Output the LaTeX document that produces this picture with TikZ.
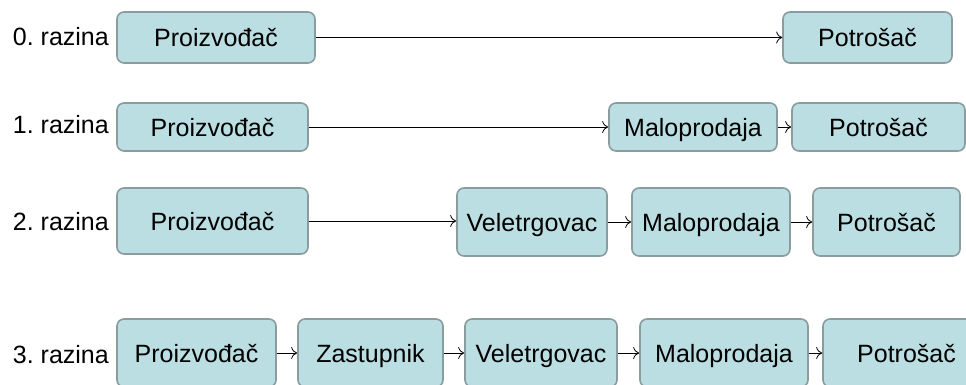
\documentclass[tikz,border=0pt]{standalone}
\usepackage{fontspec}
\setmainfont{Liberation Sans}
\usetikzlibrary{arrows.meta}
\definecolor{boxfill}{RGB}{186,222,226}
\definecolor{boxline}{RGB}{138,156,158}

\begin{document}
\begin{tikzpicture}[x=1pt,y=-1pt,
	box/.style={draw=boxline, fill=boxfill, line width=1.6pt, rounded corners=7pt,
		inner sep=2pt, text height=18pt, text depth=0pt, font=\fontsize{25}{30}\selectfont},
	level/.style={anchor=east, inner sep=0pt, font=\fontsize{25}{30}\selectfont},
	link/.style={-{To[length=6pt,width=12pt]}, line width=0.8pt}]
	\useasboundingbox (0,0) rectangle (966,385);
	% razine
	\foreach \Y [count=\Z from 0] in {37, 125, 222, 355}
	{\node[level] (l\Z) at (109,\Y) {\Z.\ razina};}
	% kutije
	\foreach \N/\X/\Y/\W/\H/\T in {
	p0/216/37.5/198/51/Proizvođač, c0/867.5/37.5/169/51/Potrošač,
	p1/212.5/127/191/48/Proizvođač, m1/693/127/168/48/Maloprodaja, c1/878.5/127/173/48/Potrošač,
	p2/212.5/221/191/66/Proizvođač, v2/532/222/150/68/Veletrgovac,
	m2/711/222/158/68/Maloprodaja, c2/886.5/222/147/68/Potrošač,
	p3/196.5/353/159/68/Proizvođač, z3/370.5/353/145/68/Zastupnik, v3/541/353/152/68/Veletrgovac,
	m3/724/353/168/68/Maloprodaja, c3/906.5/353/167/68/Potrošač}
	{\node[box, minimum width=\W pt, minimum height=\H pt] (\N) at (\X,\Y) {\T};}
	% veze
	\foreach \A/\B in {p0/c0, p1/m1, m1/c1, p2/v2, v2/m2, m2/c2,
	p3/z3, z3/v3, v3/m3, m3/c3}
	{\draw[link] (\A.east) -- (\A.east -| \B.west);}
\end{tikzpicture}
\end{document}
